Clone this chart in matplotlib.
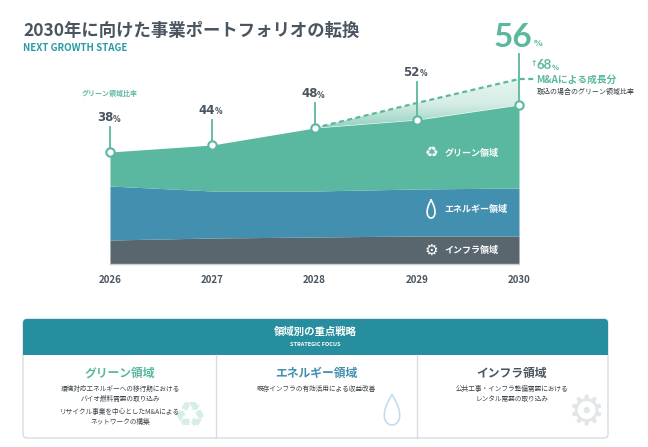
import numpy as np
import matplotlib
matplotlib.use("Agg")
import matplotlib.pyplot as plt
from matplotlib.patches import FancyBboxPatch, Rectangle, Polygon
from matplotlib.colors import LinearSegmentedColormap

plt.rcParams['font.family'] = ['Noto Sans CJK JP', 'DejaVu Sans']

# data (stack heights in chart units)
years = [2026, 2027, 2028, 2029, 2030]
infra = [24, 26, 27, 28, 28]
energy = [54, 47, 46, 47, 48]
green = [34, 46, 63, 69, 83]
green_share = [38, 44, 48, 52, 56]
ma_years = [2028, 2029, 2030]
ma_top = [136, 161, 185]
ma_share = 68

c_green = '#5bb8a0'
c_blue = '#438faf'
c_infra = '#59666d'
c_text = '#4a5560'
c_teal = '#268e9e'

W, H = 648, 447
fig = plt.figure(figsize=(W / 100, H / 100), dpi=100)

# chart axes: 2026 -> 110px, 2030 -> 519px, baseline at 264px from top, 1 unit = 1px
ppy = (519 - 110) / 4
ax = fig.add_axes([0, 0, 1, 1])
ax.set_xlim(2026 - 110 / ppy, 2026 + (W - 110) / ppy)
ax.set_ylim(-(H - 264), 264)
ax.axis('off')

x = np.array(years)
b1 = np.array(infra)
b2 = b1 + np.array(energy)
b3 = b2 + np.array(green)

ax.fill_between(x, 0, b1, color=c_infra, lw=0, zorder=2)
ax.fill_between(x, b1, b2, color=c_blue, lw=0, zorder=2)
ax.fill_between(x, b2, b3, color=c_green, lw=0, zorder=2)
ax.plot([2026, 2030], [0, 0], color='#c9d1d6', lw=1, zorder=3)

# M&A upside area with gradient
mx = np.array(ma_years)
gi = [years.index(y) for y in ma_years]
poly = np.column_stack([np.r_[mx, mx[::-1]], np.r_[ma_top, b3[gi][::-1]]])
patch = Polygon(poly, closed=True, facecolor='none', edgecolor='none')
ax.add_patch(patch)
cmap = LinearSegmentedColormap.from_list('g', ['#e8f5f1', '#d6ede6', '#8fcfbd'])
grad = np.linspace(0, 1, 100).reshape(-1, 1)
im = ax.imshow(grad, cmap=cmap, aspect='auto', origin='upper',
               extent=[mx[0], mx[-1], b3[gi].min() - 2, max(ma_top) + 2], zorder=2)
im.set_clip_path(patch)
ax.plot(list(mx) + [2030.17], list(ma_top) + [ma_top[-1]], ls=(0, (2.2, 1.6)),
        color=c_green, lw=1.6, zorder=4)

# stems, markers and share labels
stem_top = [137, 144, 161, 182, 210]
for i, yr in enumerate(years):
    ax.plot([yr, yr], [b3[i], stem_top[i]], color=c_green, lw=1.3, zorder=4)
    ax.plot(yr, b3[i], 'o', ms=6, mfc='white', mec=c_green, mew=1.5, zorder=5)
    big = yr == 2030
    col = c_green if big else c_text
    if big:
        ty = stem_top[i] + 2
        ax.text(yr + 0.13, ty, str(green_share[i]), ha='right', va='bottom', fontsize=24,
                fontweight='bold', color=col, family='Lato', zorder=6)
        ax.text(yr + 0.14, ty + 4, '%', ha='left', va='bottom', fontsize=6.5,
                fontweight='bold', color=col, zorder=6)
    else:
        ty = stem_top[i] + 3
        ax.text(yr + 0.03, ty, str(green_share[i]), ha='right', va='bottom', fontsize=8.5,
                fontweight='bold', color=col, family='DejaVu Sans', zorder=6)
        ax.text(yr + 0.025, ty + 0.5, '%', ha='left', va='bottom', fontsize=5.5,
                fontweight='bold', color=col, family='DejaVu Sans', zorder=6)

ax.text(2026, 171, 'グリーン領域比率', ha='center', va='center', fontsize=5,
        color=c_green, fontweight='bold')

ax.text(2030.14, 200, '↑', ha='center', va='center', fontsize=5.5, color=c_green,
        fontweight='bold', family='DejaVu Sans')
ax.text(2030.17, 199, str(ma_share), ha='left', va='center', fontsize=9.5,
        color=c_green, fontweight='bold', family='Lato')
ax.text(2030.325, 196, '%', ha='left', va='center', fontsize=5, color=c_green,
        fontweight='bold', family='DejaVu Sans')
ax.text(2030.17, 184, 'M&Aによる成長分', ha='left', va='center', fontsize=7,
        color=c_green, fontweight='bold')
ax.text(2030.17, 172, '取込の場合のグリーン領域比率', ha='left', va='center', fontsize=5,
        color='#333b40')

# band labels
lx = 2029.27
ax.text(lx - 0.13, 111, '♻', ha='center', va='center', fontsize=11, color='white',
        family='DejaVu Sans', zorder=6)
ax.text(lx, 111, 'グリーン領域', ha='left', va='center', fontsize=6.5, color='white',
        fontweight='bold', zorder=6)
t = np.linspace(0, 2 * np.pi, 80)
dxs = 2029.14 + 0.05 * np.sin(t) * np.sin(t / 2)
dys = 55 + 9 * np.cos(t)
ax.plot(dxs, dys, color='white', lw=1.2, zorder=6)
ax.text(lx, 55, 'エネルギー領域', ha='left', va='center', fontsize=6.5, color='white',
        fontweight='bold', zorder=6)
ax.text(lx - 0.13, 14, '⚙', ha='center', va='center', fontsize=11, color='white',
        family='DejaVu Sans', zorder=6)
ax.text(lx, 14, 'インフラ領域', ha='left', va='center', fontsize=6.5, color='white',
        fontweight='bold', zorder=6)

for yr in years:
    ax.text(yr, -16, str(yr), ha='center', va='center', fontsize=7,
            color=c_text, fontweight='bold')

# overlay in pixel coords for title and strategy panel
ov = fig.add_axes([0, 0, 1, 1], zorder=5)
ov.set_xlim(0, W)
ov.set_ylim(H, 0)
ov.axis('off')
ov.patch.set_alpha(0)

ov.text(23, 31, '2030年に向けた事業ポートフォリオの転換', ha='left', va='center',
        fontsize=12.5, fontweight='bold', color=c_text)
ov.text(23, 48, 'NEXT GROWTH STAGE', ha='left', va='center', fontsize=7,
        fontweight='bold', color='#2a9aa5')

bx0, bx1, by0, by1, hy = 23, 608, 319, 438, 355
ov.add_patch(FancyBboxPatch((bx0, by0), bx1 - bx0, by1 - by0, boxstyle='round,pad=0,rounding_size=4',
                            fc='white', ec='#d5dde3', lw=1))
ov.add_patch(FancyBboxPatch((bx0, by0), bx1 - bx0, hy - by0, boxstyle='round,pad=0,rounding_size=4',
                            fc=c_teal, ec='none'))
ov.add_patch(Rectangle((bx0, hy - 6), bx1 - bx0, 6, fc=c_teal, ec='none'))
ov.text((bx0 + bx1) / 2, 332, '領域別の重点戦略', ha='center', va='center', fontsize=7.5,
        color='white', fontweight='bold')
ov.text((bx0 + bx1) / 2, 345, 'STRATEGIC FOCUS', ha='center', va='center', fontsize=4,
        color='white', fontweight='bold')
for dx in (216, 417):
    ov.plot([dx, dx], [hy, by1], color='#d5dde3', lw=1)

# faint background icons
ov.text(190, 417, '♻', ha='center', va='center', fontsize=26, color='#d6eee7',
        family='DejaVu Sans', zorder=1)
ov.plot(392 + 10 * np.sin(t) * np.sin(t / 2), 410 - 15 * np.cos(t), color='#c7dcea', lw=1.2)
ov.text(586, 413, '⚙', ha='center', va='center', fontsize=30, color='#e3e6e8',
        family='DejaVu Sans', zorder=1)

cols = [(120, 'グリーン領域', c_green,
         ['環境対応エネルギーへの移行期における', 'バイオ燃料需要の取り込み', None,
          'リサイクル事業を中心としたM&Aによる', 'ネットワークの構築']),
        (316, 'エネルギー領域', c_blue, ['既存インフラの有効活用による収益改善']),
        (512, 'インフラ領域', c_text, ['公共工事・インフラ整備需要における', 'レンタル需要の取り込み'])]
for cx, title, col, lines in cols:
    ov.text(cx, 373, title, ha='center', va='center', fontsize=8.5, color=col, fontweight='bold')
    yy = 389
    for ln in lines:
        if ln is None:
            yy += 3
            continue
        ov.text(cx, yy, ln, ha='center', va='center', fontsize=4.8, color='#3c4449', zorder=3)
        yy += 10

fig.savefig('out.png', dpi=100)
